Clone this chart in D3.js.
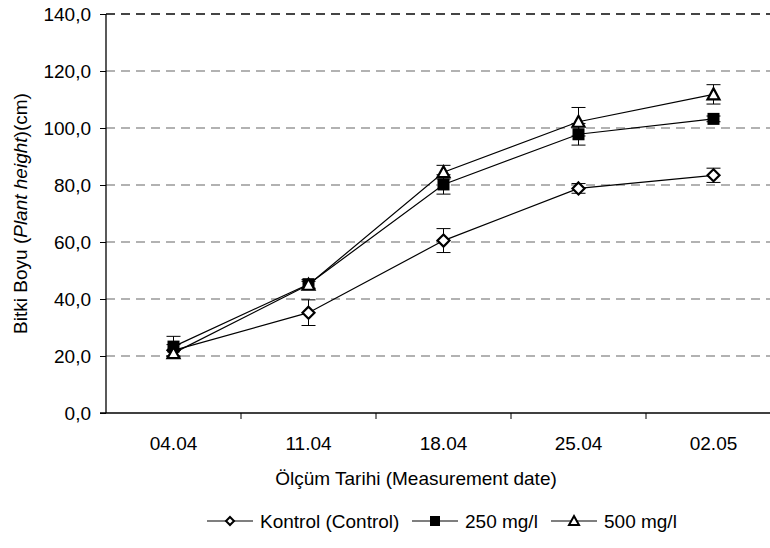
<!DOCTYPE html>
<html>
<head>
<meta charset="utf-8">
<script src="https://cdn.jsdelivr.net/npm/d3@7"></script>
<style>
  body { margin: 0; background: #fff; }
  svg text { font-family: "Liberation Sans", Arial, sans-serif; fill: #000; }
</style>
</head>
<body>
<div id="chart"></div>
<script>
(function () {

    var DATES   = ["04.04", "11.04", "18.04", "25.04", "02.05"];
    var Y_TICKS = [0, 20, 40, 60, 80, 100, 120, 140];

    var CONTROL     = [22.0, 35.2, 60.5, 78.8, 83.4];
    var CONTROL_ERR = [2.0, 4.5, 4.2, 1.7, 2.5];
    var MG250       = [23.3, 45.2, 80.2, 97.8, 103.2];
    var MG250_ERR   = [3.6, 1.6, 3.4, 3.8, 1.0];
    var MG500       = [21.0, 45.0, 84.5, 102.2, 111.8];
    var MG500_ERR   = [1.0, 1.2, 2.4, 5.0, 3.4];

    var SERIES = [
        { label: "Kontrol (Control)", values: CONTROL, err: CONTROL_ERR, marker: "diamond" },
        { label: "250 mg/l",          values: MG250,   err: MG250_ERR,   marker: "square"  },
        { label: "500 mg/l",          values: MG500,   err: MG500_ERR,   marker: "triangle" }
    ];

    var FONT = "19px";
    var W = 770, H = 548;
    var margin = { top: 14, left: 106 };
    var iW = 675, iH = 399;

    var svg = d3.select("#chart").append("svg")
        .attr("width", W).attr("height", H);

    var g = svg.append("g")
        .attr("transform", "translate(" + margin.left + "," + margin.top + ")");

    var x = d3.scaleBand().domain(DATES).range([0, iW]).padding(0);
    var y = d3.scaleLinear().domain([0, 140]).range([iH, 0]);
    function cx(i) { return x(DATES[i]) + x.bandwidth() / 2; }

    /* ── grid ─────────────────────────────────────────────────────── */
    g.append("g").selectAll("line")
        .data(Y_TICKS.filter(function (v) { return v > 0; }))
        .enter().append("line")
        .attr("x1", 0).attr("x2", iW)
        .attr("y1", function (v) { return y(v); })
        .attr("y2", function (v) { return y(v); })
        .attr("stroke", function (v) { return v === 140 ? "#444" : "#666"; })
        .attr("stroke-width", function (v) { return v === 140 ? 1.8 : 1.1; })
        .attr("stroke-dasharray", "9 6");

    /* ── axes ─────────────────────────────────────────────────────── */
    var fmt = function (v) { return d3.format(".1f")(v).replace(".", ","); };

    g.append("g")
        .call(d3.axisLeft(y).tickValues(Y_TICKS).tickSize(6).tickPadding(9).tickFormat(fmt));

    g.append("g")
        .attr("transform", "translate(0," + iH + ")")
        .call(d3.axisBottom(x).tickSize(0).tickPadding(24));

    // category boundary ticks
    g.append("g").selectAll("line")
        .data(DATES.slice(1))
        .enter().append("line")
        .attr("x1", function (d) { return x(d); })
        .attr("x2", function (d) { return x(d); })
        .attr("y1", iH).attr("y2", iH + 6)
        .attr("stroke", "#000");

    g.selectAll(".domain").remove();
    g.append("line").attr("x1", 0).attr("x2", 0).attr("y1", 0).attr("y2", iH)
        .attr("stroke", "#000").attr("stroke-width", 1.3);
    g.append("line").attr("x1", -6).attr("x2", iW).attr("y1", iH).attr("y2", iH)
        .attr("stroke", "#000").attr("stroke-width", 1.3);

    g.selectAll(".tick text")
        .style("font-size", FONT)
        .style("font-family", "'Liberation Sans', Arial, sans-serif");
    g.selectAll(".tick line").attr("stroke", "#000");

    /* ── titles ───────────────────────────────────────────────────── */
    svg.append("text")
        .attr("x", 416).attr("y", 485)
        .attr("text-anchor", "middle")
        .style("font-size", FONT)
        .text("Ölçüm Tarihi (Measurement date)");

    var yt = svg.append("text")
        .attr("transform", "translate(27," + (margin.top + iH / 2) + ") rotate(-90)")
        .attr("text-anchor", "middle")
        .style("font-size", FONT);
    yt.append("tspan").text("Bitki Boyu (");
    yt.append("tspan").style("font-style", "italic").text("Plant height");
    yt.append("tspan").text(")(cm)");

    /* ── markers ──────────────────────────────────────────────────── */
    function drawMarker(sel, type, px, py) {
        if (type === "diamond") {
            sel.append("path")
                .attr("d", "M" + px + "," + (py - 6) + "L" + (px + 6) + "," + py +
                           "L" + px + "," + (py + 6) + "L" + (px - 6) + "," + py + "Z")
                .attr("fill", "#fff").attr("stroke", "#000").attr("stroke-width", 2.2);
        } else if (type === "square") {
            sel.append("rect")
                .attr("x", px - 6).attr("y", py - 6)
                .attr("width", 12).attr("height", 12)
                .attr("fill", "#000");
        } else {
            sel.append("path")
                .attr("d", "M" + px + "," + (py - 6) + "L" + (px + 6) + "," + (py + 5) +
                           "L" + (px - 6) + "," + (py + 5) + "Z")
                .attr("fill", "#fff").attr("stroke", "#000").attr("stroke-width", 2.2);
        }
    }

    /* ── series ───────────────────────────────────────────────────── */
    var line = d3.line()
        .x(function (d, i) { return cx(i); })
        .y(function (d) { return y(d); });

    SERIES.forEach(function (s) {
        var sg = g.append("g");

        sg.append("path")
            .datum(s.values)
            .attr("d", line)
            .attr("fill", "none")
            .attr("stroke", "#000")
            .attr("stroke-width", 1.2);

        s.values.forEach(function (v, i) {
            var px = cx(i);
            var y1 = y(v + s.err[i]), y2 = y(v - s.err[i]);
            sg.append("line").attr("x1", px).attr("x2", px).attr("y1", y1).attr("y2", y2)
                .attr("stroke", "#000");
            sg.append("line").attr("x1", px - 7).attr("x2", px + 7).attr("y1", y1).attr("y2", y1)
                .attr("stroke", "#000");
            sg.append("line").attr("x1", px - 7).attr("x2", px + 7).attr("y1", y2).attr("y2", y2)
                .attr("stroke", "#000");
        });

        s.values.forEach(function (v, i) {
            drawMarker(sg, s.marker, cx(i), y(v));
        });
    });

    /* ── legend ───────────────────────────────────────────────────── */
    var legendX = [207, 412, 551];
    var legend = svg.append("g").attr("transform", "translate(0,521)");

    SERIES.forEach(function (s, i) {
        var lx = legendX[i];
        legend.append("line")
            .attr("x1", lx).attr("x2", lx + 46)
            .attr("y1", 0).attr("y2", 0)
            .attr("stroke", "#000").attr("stroke-width", 1.2);
        var mg = legend.append("g");
        if (s.marker === "diamond") {
            mg.append("path").attr("d", "M" + (lx + 23) + ",-4L" + (lx + 27) + ",0L" + (lx + 23) + ",4L" + (lx + 19) + ",0Z")
                .attr("fill", "#fff").attr("stroke", "#000").attr("stroke-width", 2);
        } else if (s.marker === "square") {
            mg.append("rect").attr("x", lx + 18).attr("y", -5).attr("width", 10).attr("height", 10)
                .attr("fill", "#000");
        } else {
            mg.append("path").attr("d", "M" + (lx + 23) + ",-5L" + (lx + 28) + ",4L" + (lx + 18) + ",4Z")
                .attr("fill", "#fff").attr("stroke", "#000").attr("stroke-width", 2);
        }
        legend.append("text")
            .attr("x", lx + 53).attr("y", 7)
            .style("font-size", FONT)
            .text(s.label);
    });

}());
</script>
</body>
</html>
